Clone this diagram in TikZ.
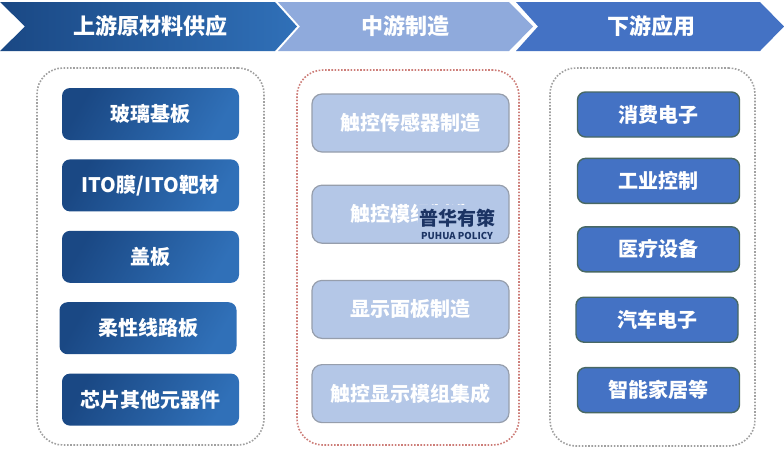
\documentclass[tikz,border=0pt]{standalone}
\usepackage{fontspec}
\newfontfamily\cjk{Noto Sans CJK SC}
\usetikzlibrary{positioning}
\definecolor{upDark}{RGB}{26,72,132}
\definecolor{upLight}{RGB}{48,112,184}
\definecolor{midBar}{RGB}{143,170,220}
\definecolor{midFill}{RGB}{180,199,231}
\definecolor{midLine}{RGB}{150,158,172}
\definecolor{downBar}{RGB}{68,114,196}
\definecolor{downLine}{RGB}{72,104,100}
\definecolor{frameGrey}{RGB}{160,160,160}
\definecolor{frameRed}{RGB}{205,125,120}
\definecolor{markBlue}{RGB}{28,52,100}
\tikzset{
    %Define style for the header texts
    bartext/.style={
           text=white,
           font=\cjk\bfseries\fontsize{22}{26}\selectfont},
    %Define style for the dotted frames
    panel/.style={
           rectangle,
           rounded corners=26pt,
           line width=1.6pt,
           dash pattern=on 1.6pt off 1.6pt,
           inner sep=0pt},
    %Define styles for boxes
    upbox/.style={
           rectangle,
           rounded corners=8pt,
           minimum width=177pt,
           minimum height=52pt,
           inner sep=0pt,
           left color=upDark, right color=upLight, shading angle=60,
           text=white,
           font=\cjk\bfseries\fontsize{20}{24}\selectfont},
    midbox/.style={
           rectangle,
           rounded corners=10pt,
           draw=midLine, line width=1.2pt,
           fill=midFill,
           minimum width=197pt,
           minimum height=58pt,
           inner sep=0pt,
           text=white,
           font=\cjk\bfseries\fontsize{20}{24}\selectfont},
    downbox/.style={
           rectangle,
           rounded corners=8pt,
           draw=downLine, line width=1.4pt,
           fill=downBar,
           minimum width=162pt,
           minimum height=45pt,
           inner sep=0pt,
           text=white,
           font=\cjk\bfseries\fontsize{20}{24}\selectfont}
}

\begin{document}
\begin{tikzpicture}[x=1pt,y=-1pt]
\useasboundingbox[fill=white] (0,0) rectangle (784,448);
% header chevrons
\path[left color=upDark, right color=upLight]
    (0,2) -- (275,2) -- (297,26.5) -- (275,51) -- (0,51) -- (25,26.5) -- cycle;
\path[fill=midBar]
    (278,2) -- (509,2) -- (533,26.5) -- (509,51) -- (278,51) -- (300,26.5) -- cycle;
\path[fill=downBar]
    (516,2) -- (760,2) -- (784,26.5) -- (760,51) -- (516,51) -- (538,26.5) -- cycle;
\node[bartext] (upT) at (150,26.5) {上游原材料供应};
\node[bartext] (midT) at (405,26.5) {中游制造};
\node[bartext] (downT) at (651,26.5) {下游应用};
% dotted frames
\node[panel, draw=frameGrey, minimum width=227pt, minimum height=377pt] (upF) at (150.5,256.5) {};
\node[panel, draw=frameRed, minimum width=222pt, minimum height=375pt] (midF) at (408,257.5) {};
\node[panel, draw=frameGrey, minimum width=205pt, minimum height=378pt] (downF) at (652.5,257) {};
% upstream
\node[upbox] (u1) at (150.5,114) {玻璃基板};
\node[upbox, below=19pt of u1] (u2) {ITO膜/ITO靶材};
\node[upbox, below=19pt of u2] (u3) {盖板};
\node[upbox, below=19pt of u3, xshift=-2.5pt] (u4) {柔性线路板};
\node[upbox, below=19pt of u4, xshift=2.5pt] (u5) {芯片其他元器件};
% midstream
\node[midbox] (m1) at (410.5,123) {触控传感器制造};
\node[midbox, below=32pt of m1] (m2) {触控模组制造};
\node[midbox, below=36pt of m2] (m3) {显示面板制造};
\node[midbox, below=25pt of m3] (m4) {触控显示模组集成};
% downstream
\node[downbox] (d1) at (658.5,114.5) {消费电子};
\node[downbox, below=20pt of d1] (d2) {工业控制};
\node[downbox, below=22pt of d2] (d3) {医疗设备};
\node[downbox, below=24pt of d3, xshift=-1.5pt] (d4) {汽车电子};
\node[downbox, below=24pt of d4, xshift=1.5pt] (d5) {智能家居等};
% watermark
\node[text=markBlue, fill=midFill, font=\cjk\bfseries\fontsize{19}{22}\selectfont, inner xsep=1pt, inner ysep=4pt] (logo) at (457,218) {普华有策};
\node[text=markBlue, font=\cjk\bfseries\fontsize{9.5}{11}\selectfont, inner sep=0pt, below=1pt of logo] (logoEn) {PUHUA POLICY};
\end{tikzpicture}
\end{document}
